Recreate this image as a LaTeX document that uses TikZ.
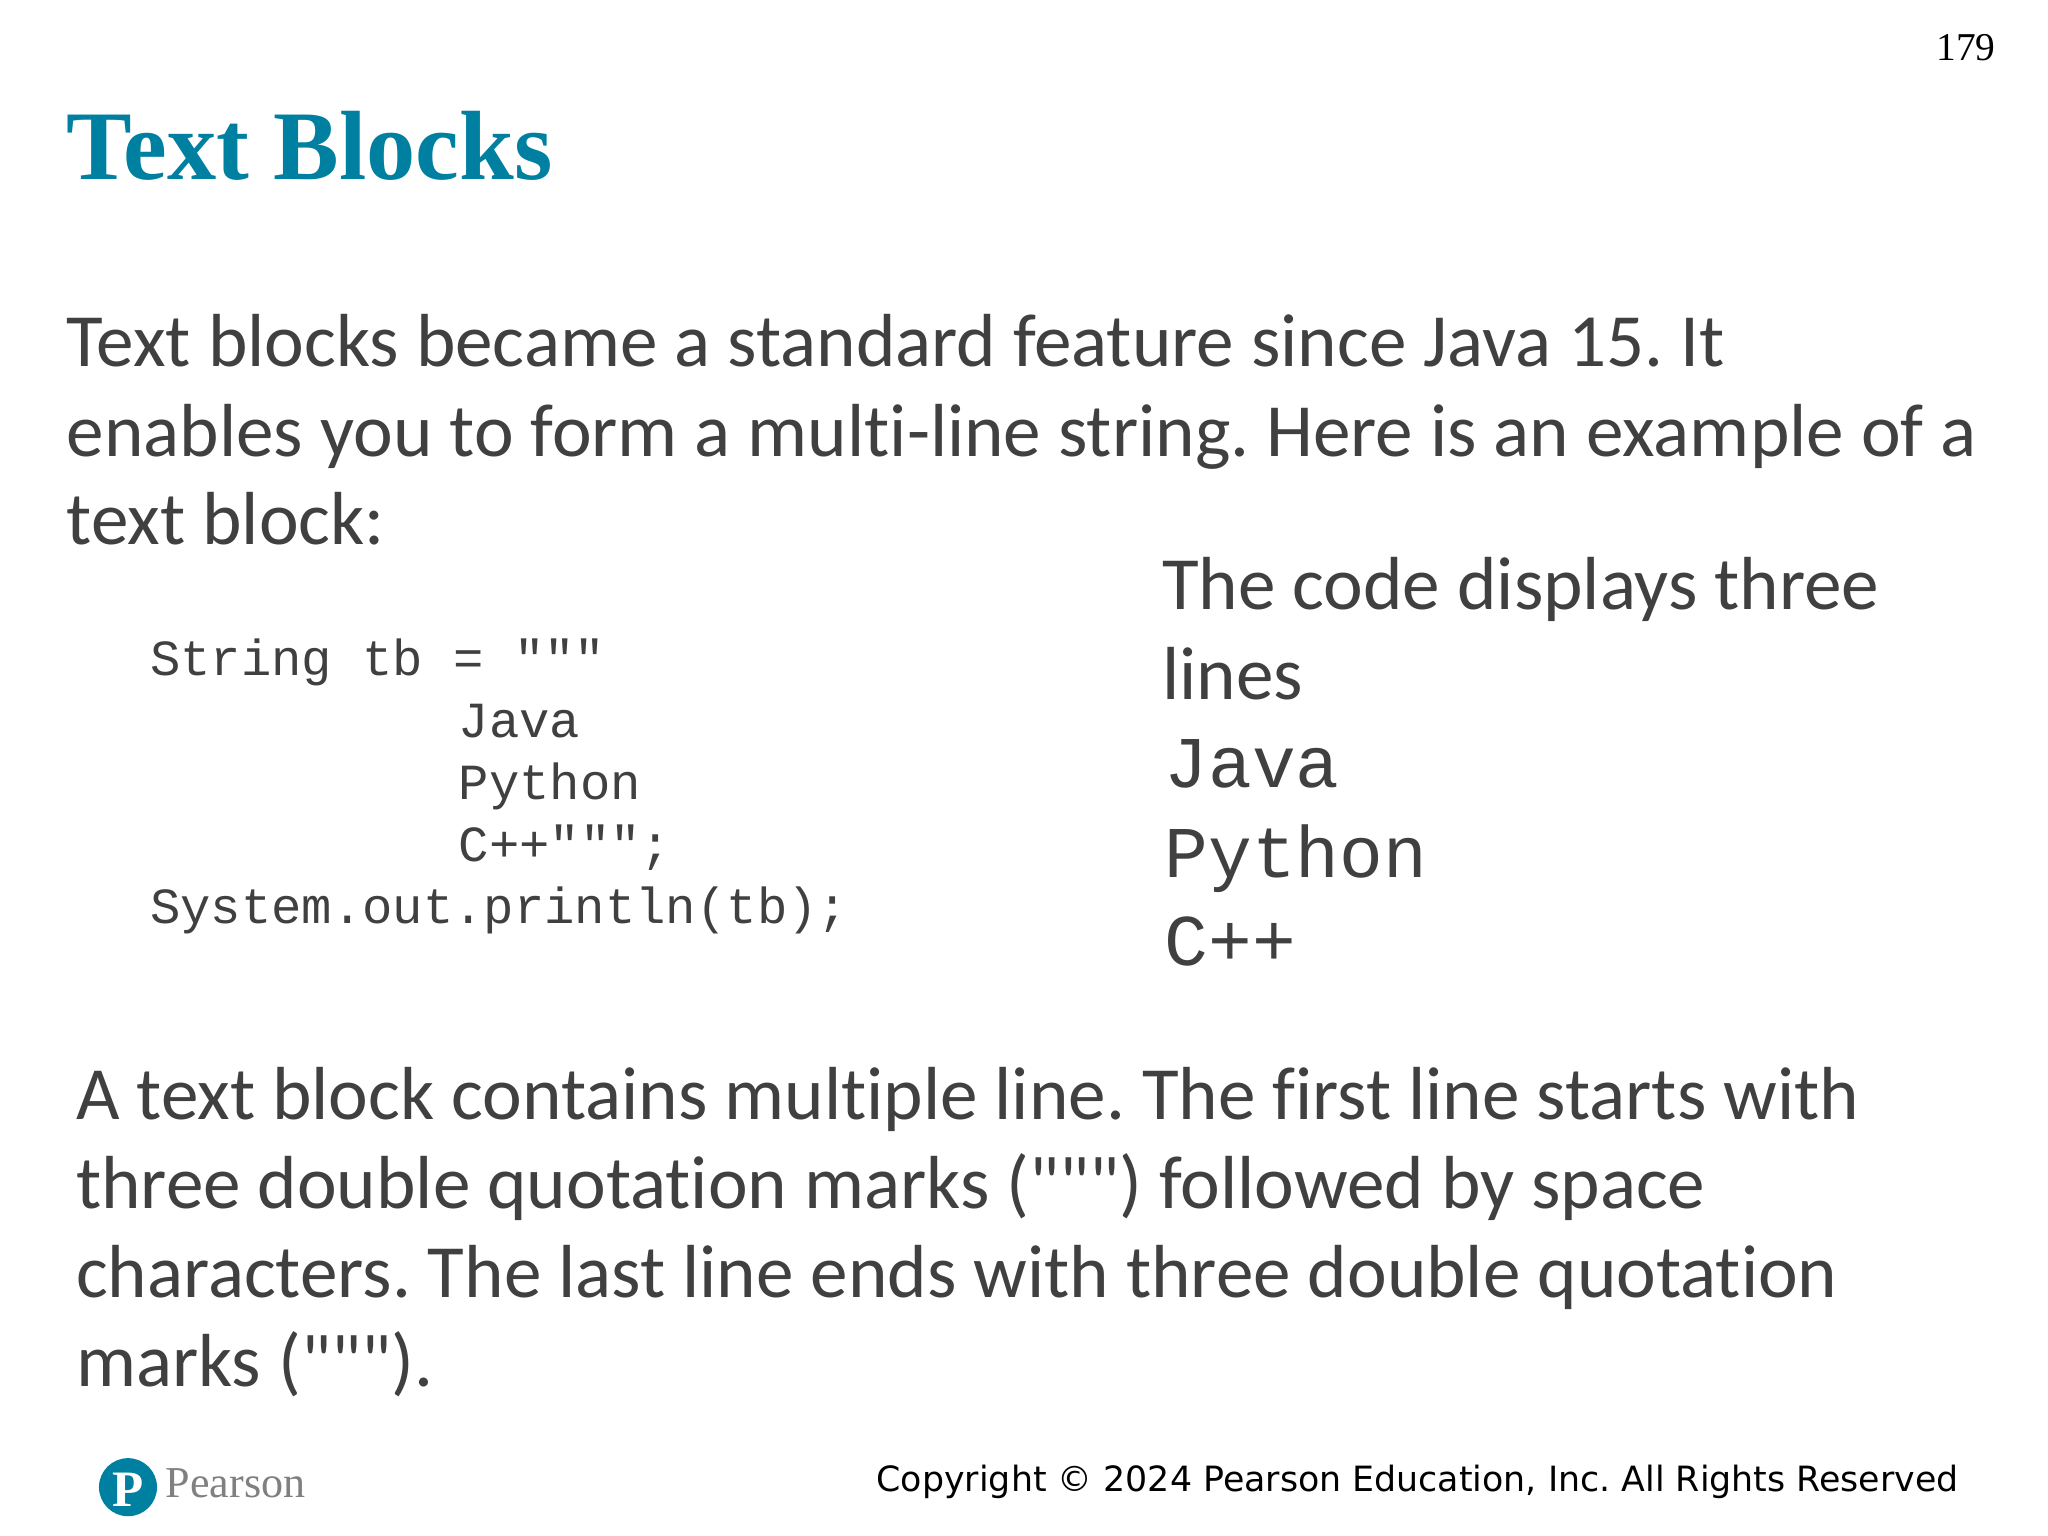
\documentclass[tikz,border=0pt]{standalone}
\usepackage{fontspec}
\setmainfont[Ligatures={CommonOff,TeXOff}]{Carlito}
\newfontfamily\ttl{Liberation Serif}
\newfontfamily\cour{Liberation Mono}
\newfontfamily\dv{DejaVu Sans}
\definecolor{teal1}{RGB}{0,128,160}
\definecolor{txt}{RGB}{64,64,64}
\newcommand{\sq}{\symbol{"22}}
\frenchspacing
\begin{document}
\begin{tikzpicture}[x=0.01cm,y=-0.01cm,
  body/.style={anchor=base west,inner sep=0,text=txt,font=\fontsize{16.2}{19.4}\selectfont},
  code/.style={anchor=base west,inner sep=0,text=txt,font=\cour\fontsize{10.9}{13}\selectfont},
  big/.style={anchor=base west,inner sep=0,text=txt,font=\cour\fontsize{15.7}{19}\selectfont}]
\useasboundingbox (0,0) rectangle (1552,1164);
\node[anchor=base east,inner sep=0,font=\ttl\fontsize{8.5}{10}\selectfont] (pg) at (1513,46) {179};
\node[anchor=base west,inner sep=0,text=teal1,font=\ttl\bfseries\fontsize{21.2}{24}\selectfont] (title) at (50,136) {Text Blocks};
\node[body] (p1) at (50,278) {Text blocks became a standard feature since Java 15. It};
\node[body] (p2) at (50,346) {enables you to form a multi-line string. Here is an example of a};
\node[body] (p3) at (50,413) {text block:};
\node[code] (c1) at (113,512) {String tb = """};
\node[code] (c2) at (347,559) {Java};
\node[code] (c3) at (347,606) {Python};
\node[code] (c4) at (347,653) {C++""";};
\node[code] (c5) at (113,700) {System.out.println(tb);};
\node[body] (r1) at (880,462) {The code displays three};
\node[body] (r2) at (880,530) {lines};
\node[big] (r3) at (882,597) {Java};
\node[big] (r4) at (882,665) {Python};
\node[big] (r5) at (882,732) {C++};
\node[body] (b1) at (57,848) {A text block contains multiple line. The first line starts with};
\node[body] (b2) at (57,916) {three double quotation marks (\sq\sq\sq) followed by space};
\node[body] (b3) at (57,983) {characters. The last line ends with three double quotation};
\node[body] (b4) at (57,1051) {marks (\sq\sq\sq).};
\node[anchor=base east,inner sep=0,font=\dv\fontsize{7.5}{9}\selectfont] (cp) at (1485,1130) {Copyright © 2024 Pearson Education, Inc. All Rights Reserved};
\fill[teal1] (97,1127) circle (22);
\node[inner sep=0,text=white,font=\ttl\bfseries\fontsize{11}{12}\selectfont] (logo) at (97,1129) {P};
\node[anchor=base west,inner sep=0,text=gray,font=\ttl\fontsize{9.5}{11}\selectfont] (pe) at (125,1135) {Pearson};
\end{tikzpicture}
\end{document}
